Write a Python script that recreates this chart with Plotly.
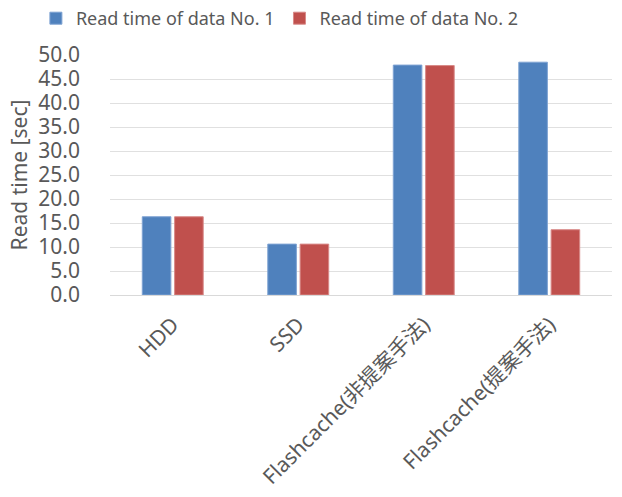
import plotly.graph_objects as go

categories = ["HDD", "SSD", "Flashcache(非提案手法)", "Flashcache(提案手法)"]
series1_name = "Read time of data No. 1"
series2_name = "Read time of data No. 2"
series1 = [16.3, 10.6, 47.9, 48.5]
series2 = [16.3, 10.6, 47.8, 13.6]
y_ticks = [0, 5, 10, 15, 20, 25, 30, 35, 40, 45, 50]

FONT = "Noto Sans, Noto Sans CJK JP, sans-serif"
GRAY = "#595959"

fig = go.Figure()
fig.add_trace(go.Bar(x=categories, y=series1, name=series1_name,
                     marker=dict(color="#4F81BD", line=dict(color="#7FA3D3", width=1))))
fig.add_trace(go.Bar(x=categories, y=series2, name=series2_name,
                     marker=dict(color="#C0504D", line=dict(color="#D88A88", width=1))))

fig.update_layout(
    width=622, height=497,
    paper_bgcolor="white", plot_bgcolor="white",
    margin=dict(l=110, r=10, t=55, b=202, autoexpand=False),
    barmode="group", bargap=0.485, bargroupgap=0.115,
    font=dict(family=FONT, color=GRAY, size=18),
    legend=dict(orientation="h", x=0.450, xanchor="center", xref="container",
                y=1.0, yanchor="top", yref="container",
                font=dict(size=18), traceorder="normal"),
    showlegend=True,
)
fig.update_yaxes(range=[0, 50], tickvals=y_ticks, tickformat=".1f",
                 showgrid=True, gridcolor="#E0E0E0", gridwidth=1,
                 zeroline=False, showline=False, ticks="", automargin=False,
                 ticklabelstandoff=29,
                 tickfont=dict(size=21, color=GRAY),
                 title=dict(text="Read time [sec]", font=dict(size=21, color=GRAY), standoff=4))
fig.update_xaxes(tickangle=-45, showline=True, linecolor="#D9D9D9", linewidth=1,
                 automargin=False, ticklabelstandoff=8,
                 tickfont=dict(size=21, color=GRAY), ticks="")

fig.write_html("out.html", config={"displayModeBar": False},
               post_script="document.body.style.margin='0px';")
